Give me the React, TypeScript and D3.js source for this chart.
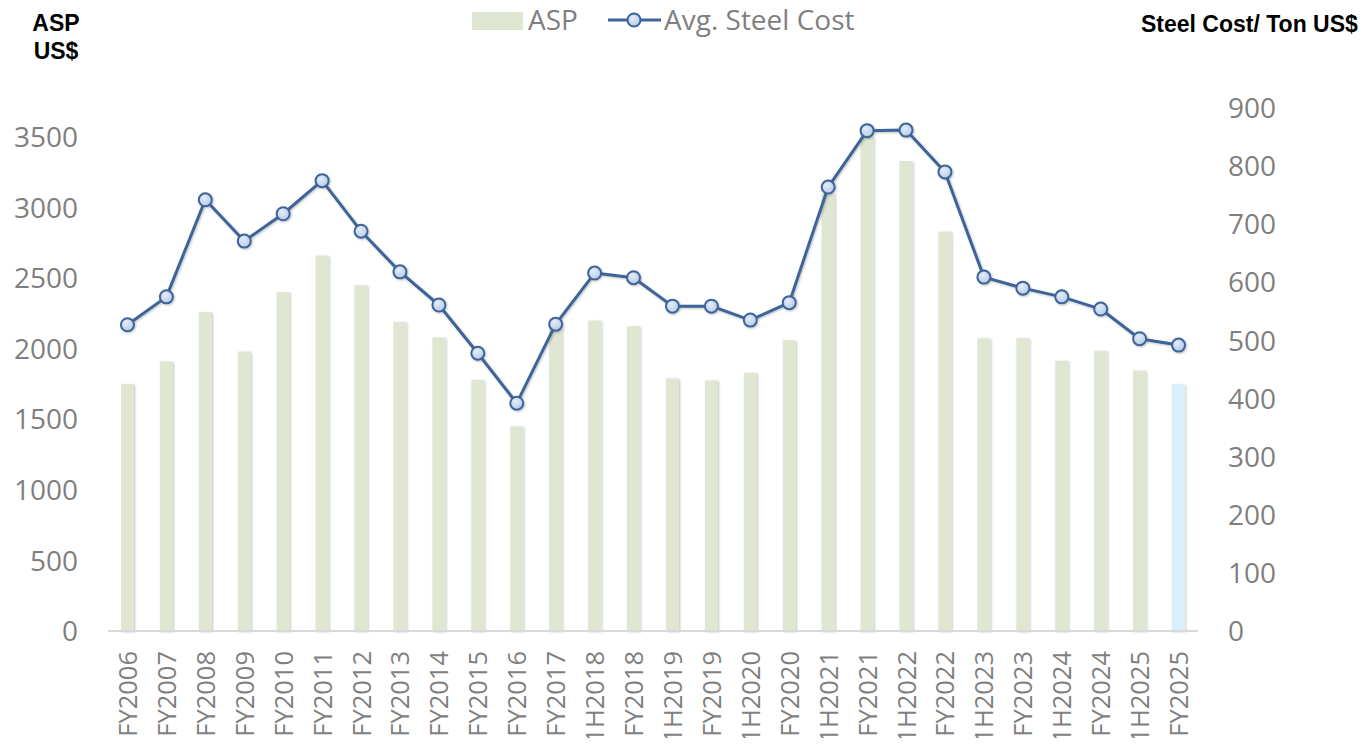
import React from "react";
import * as d3 from "d3";

const categories = [
  "FY2006", "FY2007", "FY2008", "FY2009", "FY2010", "FY2011", "FY2012", "FY2013",
  "FY2014", "FY2015", "FY2016", "FY2017", "1H2018", "FY2018", "1H2019", "FY2019",
  "1H2020", "FY2020", "1H2021", "FY2021", "1H2022", "FY2022", "1H2023", "FY2023",
  "1H2024", "FY2024", "1H2025", "FY2025",
];

const aspValues = [
  1750, 1910, 2260, 1980, 2400, 2660, 2450, 2190,
  2080, 1780, 1450, 2150, 2200, 2160, 1790, 1775,
  1830, 2060, 3100, 3500, 3330, 2830, 2075, 2075,
  1915, 1985, 1845, 1750,
];

const steelCost = [
  527, 575, 742, 671, 718, 775, 688, 618,
  561, 478, 392, 528, 616, 608, 559, 559,
  535, 565, 764, 861, 862, 790, 609, 590,
  575, 554, 503, 492,
];

const leftTicks = [0, 500, 1000, 1500, 2000, 2500, 3000, 3500];
const rightTicks = [0, 100, 200, 300, 400, 500, 600, 700, 800, 900];

const W = 1369;
const H = 746;
const plotLeft = 108;
const plotRight = 1198;
const baseY = 631;

export default function App() {
  const x = d3
    .scaleBand()
    .domain(categories)
    .range([plotLeft, plotRight])
    .paddingInner(0)
    .paddingOuter(0.0);
  const yLeft = d3.scaleLinear().domain([0, 3500]).range([baseY, 137]);
  const yRight = d3.scaleLinear().domain([0, 900]).range([baseY, 108]);

  const cx = (c: string) => (x(c) ?? 0) + x.bandwidth() / 2;
  const barW = 13;

  const lineGen = d3
    .line<number>()
    .x((_, i) => cx(categories[i]))
    .y((d) => yRight(d));

  const tickFont = "'Open Sans', 'Noto Sans', sans-serif";
  const tickColor = "#7f7f7f";
  const titleFont = "'Liberation Sans', Arial, sans-serif";

  return (
    <div style={{ margin: -8 }}>
      <svg width={W} height={H} style={{ display: "block", background: "#fff" }}>
        <defs>
          <radialGradient id="mk" cx="40%" cy="35%" r="70%">
            <stop offset="0%" stopColor="#e4ecf8" />
            <stop offset="100%" stopColor="#b4c9e8" />
          </radialGradient>
          <filter id="sh" x="-50%" y="-50%" width="200%" height="200%">
            <feDropShadow dx="1" dy="1" stdDeviation="1" floodColor="#000" floodOpacity="0.25" />
          </filter>
        </defs>

        {/* bars */}
        <g filter="url(#sh)">
          {aspValues.map((v, i) => (
            <rect
              key={categories[i]}
              x={cx(categories[i]) - barW / 2}
              y={yLeft(v)}
              width={barW}
              height={baseY - yLeft(v)}
              fill={i === aspValues.length - 1 ? "#d9f0fc" : "#dfe7d2"}
            />
          ))}
        </g>

        {/* x axis line */}
        <line x1={plotLeft} x2={plotRight} y1={baseY} y2={baseY} stroke="#d9d9d9" strokeWidth={2} />

        {/* line series */}
        <g filter="url(#sh)">
          <path d={lineGen(steelCost) ?? ""} fill="none" stroke="#3d6499" strokeWidth={3} strokeLinejoin="round" />
          {steelCost.map((v, i) => (
            <circle
              key={categories[i]}
              cx={cx(categories[i])}
              cy={yRight(v)}
              r={6.5}
              fill="url(#mk)"
              stroke="#3d6499"
              strokeWidth={2}
            />
          ))}
        </g>

        {/* left ticks */}
        {leftTicks.map((t) => (
          <text
            key={t}
            x={78}
            y={yLeft(t)}
            dy="0.36em"
            textAnchor="end"
            fontFamily={tickFont}
            fontSize={28}
            fill={tickColor}
          >
            {t}
          </text>
        ))}

        {/* right ticks */}
        {rightTicks.map((t) => (
          <text
            key={t}
            x={1228}
            y={yRight(t)}
            dy="0.36em"
            textAnchor="start"
            fontFamily={tickFont}
            fontSize={28}
            fill={tickColor}
          >
            {t}
          </text>
        ))}

        {/* category labels */}
        {categories.map((c) => (
          <text
            key={c}
            transform={`translate(${cx(c) + 9.5},651) rotate(-90)`}
            textAnchor="end"
            fontFamily={tickFont}
            fontSize={25.5}
            fill={tickColor}
          >
            {c}
          </text>
        ))}

        {/* axis titles */}
        <text x={56} y={31} textAnchor="middle" fontFamily={titleFont} fontWeight="bold" fontSize={23} fill="#000">
          ASP
        </text>
        <text x={56} y={59} textAnchor="middle" fontFamily={titleFont} fontWeight="bold" fontSize={23} fill="#000">
          US$
        </text>
        <text x={1141} y={32} textAnchor="start" fontFamily={titleFont} fontWeight="bold" fontSize={23} fill="#000">
          Steel Cost/ Ton US$
        </text>

        {/* legend */}
        <rect x={472} y={12} width={51} height={18} fill="#dfe7d2" />
        <text x={528} y={30} fontFamily={tickFont} fontSize={28} fill={tickColor}>
          ASP
        </text>
        <line x1={608} x2={661} y1={20} y2={20} stroke="#3d6499" strokeWidth={3} />
        <circle cx={634} cy={20} r={6.5} fill="url(#mk)" stroke="#3d6499" strokeWidth={2} />
        <text x={664} y={30} fontFamily={tickFont} fontSize={28} fill={tickColor}>
          Avg. Steel Cost
        </text>
      </svg>
    </div>
  );
}
